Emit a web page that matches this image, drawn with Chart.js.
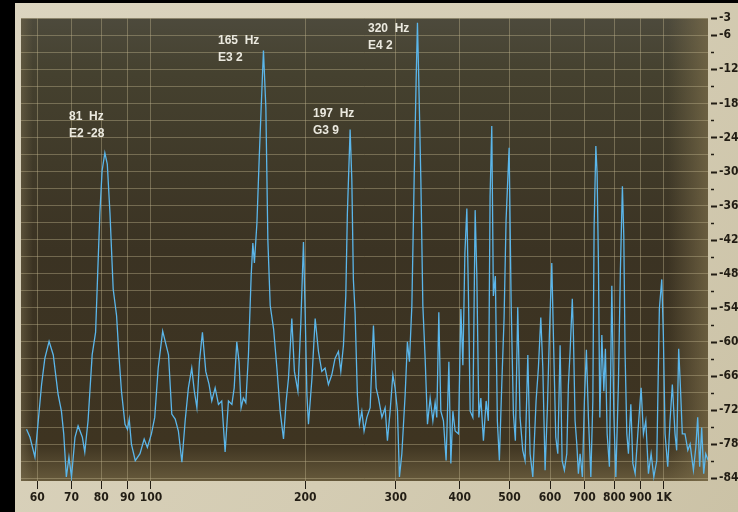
<!DOCTYPE html>
<html>
<head>
<meta charset="utf-8">
<title>Spectrum</title>
<script src="https://cdn.jsdelivr.net/npm/chart.js@4.4.1/dist/chart.umd.min.js"></script>
<style>
  html, body { margin: 0; padding: 0; background: #000; }
  #wrap { width: 738px; height: 512px; }
</style>
</head>
<body>
<div id="wrap"><canvas id="spectrum" width="738" height="512"></canvas></div>
<script>
// spectrum trace (Hz / dB)
const freqs = [
  57.2, 58.1, 59.4, 60.3, 61.2, 62.1, 63.3, 64.5, 65.9, 66.9, 67.6, 68.4, 69.2, 70.0, 71.1, 72.1, 73.5, 74.3, 75.4, 76.8,
  78.0, 78.7, 79.5, 80.3, 81.3, 82.2, 83.2, 84.4, 85.7, 86.6, 87.6, 89.0, 90.0, 90.7, 91.6, 93.2, 95.2, 97.0, 98.4, 100.2,
  101.7, 103.3, 105.4,
  108.2, 109.8, 111.5, 113.1, 114.9, 116.6, 118.3, 120.1, 121.5, 122.9, 124.3, 126.0, 127.9, 129.8, 131.4, 133.4, 135.4,
  137.4, 139.5, 141.6, 143.8, 145.3, 147.0, 148.5, 149.9, 151.4, 153.1, 154.9, 156.8, 158.0, 159.1, 160.9, 162.6, 164.0,
  165.7, 167.5, 169.0, 170.8, 173.4, 176.0, 178.6, 181.3, 183.5, 185.4, 188.2, 190.4, 193.4, 196.0, 198.3,
  199.8, 201.4, 202.8, 206.0, 209.0, 212.1, 215.3, 218.5, 221.8, 225.2, 228.5, 232.0, 234.5, 237.3, 239.8, 241.5, 244.5,
  246.4, 248.1, 250.0, 252.6, 254.9, 257.7, 260.3, 263.6, 267.5, 271.5, 274.8, 277.7, 282.0, 286.1, 289.1, 292.6, 296.2,
  299.2, 302.4, 305.1, 308.4, 313.0, 316.2, 319.1, 322.6, 325.9, 328.8, 330.8, 332.8, 335.9, 338.9, 342.4, 346.0, 350.2,
  354.5, 358.1, 360.8, 364.1, 367.4, 371.7, 376.2, 380.9, 384.3, 387.8, 391.8, 397.6, 402.0, 405.6, 409.3, 412.9, 415.9,
  419.1, 424.2, 428.6, 431.8, 435.8, 439.7, 444.8, 450.3, 454.8, 458.3, 461.8, 465.1, 469.3, 473.5, 477.8, 483.0, 488.0,
  492.4, 499.2, 503.7, 508.9, 513.4, 518.9, 524.3, 530.7, 536.2, 542.9, 548.5, 555.2, 563.4, 569.3, 575.5, 580.7, 586.7,
  592.8, 598.1, 604.6, 608.9, 615.5, 621.1, 627.6, 633.3, 639.8, 646.7, 651.4, 656.4, 662.9, 666.2, 671.2,
  676.4, 681.3, 686.5, 693.6, 699.9, 706.2, 712.7, 720.4, 726.9, 731.1, 736.8, 741.0, 745.4, 750.1, 756.9, 763.7, 769.1,
  775.1, 783.1, 791.6, 798.7, 806.0, 815.3, 822.7, 830.1, 835.3, 840.2, 846.8, 852.9, 862.1, 869.9, 879.0, 889.5, 902.8,
  912.2, 922.0, 933.0, 944.3, 955.8, 968.6, 979.9, 990.5, 997.6, 1005.3, 1017.4, 1028, 1038.7, 1051.3, 1059.1, 1068.7,
  1076.5, 1086.2, 1099.4, 1113.5, 1125, 1141.8, 1154.1, 1163.9, 1174.4, 1185.0, 1195.7, 1206.5, 1220.6
];
const levels = [
  -75.4, -76.8, -80.3, -73.9, -67.5, -62.9, -59.9, -62.3, -69.2, -72.2, -76.2, -83.8, -80.3, -83.8, -76.8, -74.8, -76.8, -79.4, -73.9, -62.3,
  -58.3, -48.4, -37.4, -29.9, -26.7, -28.7, -37.4, -50.7, -55.4, -62.3, -68.7, -74.5, -75.4, -73.6, -78.0, -80.9, -79.7, -77.1, -78.6, -76.2,
  -73.3, -64.6, -58.1,
  -62.3, -72.7, -73.6, -75.7, -81.2, -73.9, -68.1, -64.6, -68.7, -71.6, -63.5, -58.3, -65.2, -67.5, -70.4, -68.1, -71.0,
  -70.4, -79.4, -70.4, -71.0, -68.1, -60.0, -63.5, -71.6, -69.9, -70.7, -62.3, -48.4, -42.6, -46.1, -39.1, -27.5, -18.8,
  -8.7, -18.8, -42.0, -53.6, -57.7, -64.6, -72.2, -77.1, -70.4, -66.4, -55.9, -65.2, -68.7, -56.5, -42.4,
  -54.8, -69.3, -74.5, -66.4, -55.9, -61.7, -65.2, -64.6, -67.5, -65.8, -62.9, -61.7, -65.2, -60.6, -51.9, -37.4, -22.6,
  -31.6, -49.0, -54.8, -69.3, -74.5, -72.2, -75.7, -73.3, -71.6, -57.1, -68.1, -69.9, -73.3, -71.6, -77.4, -72.2, -65.8,
  -68.1, -72.2, -83.8, -79.7, -69.3, -60.0, -63.5, -53.6, -31.6, -14.2, -3.8, -14.2, -31.6, -53.6, -62.9, -74.5, -69.9,
  -73.9, -70.7, -73.3, -54.8, -72.2, -73.9, -80.9, -63.5, -81.4, -72.2, -75.7, -76.2, -54.2, -64.1, -44.4, -36.5, -51.9,
  -72.2, -73.3, -36.8, -48.4, -73.3, -69.9, -77.4, -70.4, -73.9, -34.5, -22.0, -51.9, -48.4, -73.9, -80.9, -67.5, -55.9,
  -38.6, -25.8, -53.0, -72.7, -77.4, -53.9, -73.3, -79.1, -80.9, -62.3, -79.7, -83.8, -70.4, -64.6, -55.7, -64.6, -82.6,
  -71.6, -58.8, -46.1, -58.8, -76.8, -79.7, -60.6, -80.9, -82.6, -79.7, -67.5, -61.7, -52.4, -58.8, -73.9,
  -78.0, -83.2, -79.7, -83.8, -70.4, -61.4, -73.3, -83.8, -70.4, -39.7, -25.5, -30.4, -46.1, -73.3, -58.8, -68.7, -61.2,
  -76.2, -82.0, -50.1, -72.7, -83.8, -67.5, -47.3, -32.6, -41.4, -62.3, -76.2, -79.7, -71.0, -81.4, -83.2, -76.2, -68.1,
  -76.2, -73.9, -83.2, -79.7, -83.8, -80.9, -54.2, -49.0, -58.8, -76.2, -82.0, -73.9, -67.5, -76.2, -79.1, -61.2,
  -67.5, -76.2, -76.2, -79.1, -78.0, -82.6, -78.6, -73.3, -82.0, -75.1, -83.2, -79.7, -80.9
];

const freqTicks = [60, 70, 80, 90, 100, 200, 300, 400, 500, 600, 700, 800, 900, 1000];
const freqTickLabels = ['60', '70', '80', '90', '100', '200', '300', '400', '500', '600', '700', '800', '900', '1K'];
const dbTicks = [-3, -6, -9, -12, -15, -18, -21, -24, -27, -30, -33, -36, -39, -42, -45, -48, -51, -54, -57, -60, -63, -66, -69, -72, -75, -78, -81, -84];
const dbLabelled = [-3, -6, -12, -18, -24, -30, -36, -42, -48, -54, -60, -66, -72, -78, -84];

// peak readouts (frequency line, note + cents line)
const peakNotes = [
  ['81  Hz', 'E2 -28'],
  ['165  Hz', 'E3 2'],
  ['197  Hz', 'G3 9'],
  ['320  Hz', 'E4 2']
];
// where each readout sits on the canvas (left, first baseline)
const NOTE_POS = [[69, 120], [218, 44], [313, 117], [368, 32]];

const TICK_FONT = { family: "'Liberation Sans Narrow', 'DejaVu Sans Condensed', sans-serif", size: 12, weight: 'bold' };
const GRID = 'rgba(190, 178, 140, 0.42)';
const INK = '#221d14';

document.addEventListener('DOMContentLoaded', () => {
  initSpectrum();
});

function initSpectrum() {
  const canvas = document.getElementById('spectrum');
  if (typeof Chart === 'undefined') {
    console.warn('Chart.js is not loaded.');
    return;
  }

  // Beige bezel, black edges and the dark olive screen
  const bezel = {
    id: 'bezel',
    beforeDraw(chart) {
      const { ctx, chartArea: a, width, height } = chart;
      ctx.save();
      let g = ctx.createLinearGradient(0, 0, width, height);
      g.addColorStop(0, '#dcd5c0');
      g.addColorStop(0.6, '#d4ccb3');
      g.addColorStop(1, '#cbc2a6');
      ctx.fillStyle = g;
      ctx.fillRect(0, 0, width, height);

      ctx.fillStyle = '#000';
      ctx.fillRect(0, 0, 15, height);
      ctx.fillRect(0, 0, width, 3);

      g = ctx.createLinearGradient(0, a.top, 0, a.bottom);
      g.addColorStop(0, '#4d4a3c');
      g.addColorStop(0.12, '#45412f');
      g.addColorStop(0.5, '#3b3323');
      g.addColorStop(0.92, '#3e3421');
      g.addColorStop(1, '#66593b');
      ctx.fillStyle = g;
      ctx.fillRect(a.left, a.top, a.right - a.left, a.bottom - a.top);

      // lighter glow towards the right edge
      g = ctx.createLinearGradient(a.right - 40, 0, a.right, 0);
      g.addColorStop(0, 'rgba(130, 115, 78, 0)');
      g.addColorStop(1, 'rgba(130, 115, 78, 0.65)');
      ctx.fillStyle = g;
      ctx.fillRect(a.right - 40, a.top, 40, a.bottom - a.top);

      g = ctx.createLinearGradient(a.left, 0, a.left + 12, 0);
      g.addColorStop(0, 'rgba(120, 108, 78, 0.5)');
      g.addColorStop(1, 'rgba(120, 108, 78, 0)');
      ctx.fillStyle = g;
      ctx.fillRect(a.left, a.top, 12, a.bottom - a.top);
      ctx.restore();
    },
    afterDraw(chart) {
      // dashes beside the dB scale
      const { ctx, chartArea: a } = chart;
      const y = chart.scales.y;
      ctx.save();
      ctx.strokeStyle = INK;
      dbTicks.forEach(v => {
        const py = Math.round(y.getPixelForValue(v)) + 0.5;
        const major = dbLabelled.includes(v);
        ctx.lineWidth = major ? 2 : 1.5;
        ctx.beginPath();
        ctx.moveTo(a.right + 3, py);
        ctx.lineTo(a.right + (major ? 9 : 6), py);
        ctx.stroke();
      });
      ctx.restore();
    }
  };

  // Frequency / note readouts over the peaks
  const readouts = {
    id: 'readouts',
    afterDatasetsDraw(chart) {
      const { ctx } = chart;
      ctx.save();
      ctx.fillStyle = '#ebe9df';
      ctx.font = "bold 12px 'Liberation Sans', Arial, sans-serif";
      ctx.textBaseline = 'alphabetic';
      peakNotes.forEach((lines, i) => {
        const [x, y] = NOTE_POS[i];
        ctx.fillText(lines[0], x, y);
        ctx.fillText(lines[1], x, y + 17);
      });
      ctx.restore();
    }
  };

  new Chart(canvas, {
    type: 'line',
    data: {
      datasets: [{
        data: freqs.map((f, i) => ({ x: f, y: levels[i] })),
        borderColor: '#5bb6ea',
        borderWidth: 1.3,
        pointRadius: 0,
        tension: 0,
        fill: false
      }]
    },
    options: {
      responsive: false,
      animation: false,
      devicePixelRatio: 1,
      layout: { padding: { left: 21, top: 12, right: 0, bottom: 0 } },
      plugins: {
        legend: { display: false },
        tooltip: { enabled: false }
      },
      scales: {
        x: {
          type: 'logarithmic',
          min: 55.8,
          max: 1219,
          border: { display: false },
          grid: { color: GRID, tickColor: INK, tickLength: 8, lineWidth: 1 },
          afterBuildTicks: scale => { scale.ticks = freqTicks.map(v => ({ value: v })); },
          afterFit: scale => { scale.height = 31; },
          ticks: {
            autoSkip: false,
            maxRotation: 0,
            padding: 2,
            color: INK,
            font: TICK_FONT,
            callback: v => {
              const i = freqTicks.indexOf(v);
              return i >= 0 ? freqTickLabels[i] : '';
            }
          }
        },
        y: {
          position: 'right',
          min: -84.5,
          max: -3,
          border: { display: false },
          grid: { color: GRID, drawTicks: false, lineWidth: 1 },
          afterBuildTicks: scale => { scale.ticks = dbTicks.map(v => ({ value: v })); },
          afterFit: scale => { scale.width = 30; },
          ticks: {
            autoSkip: false,
            padding: 11,
            color: INK,
            font: TICK_FONT,
            callback: v => (dbLabelled.includes(v) ? String(v) : '')
          }
        }
      }
    },
    plugins: [bezel, readouts]
  });
}
</script>
</body>
</html>
